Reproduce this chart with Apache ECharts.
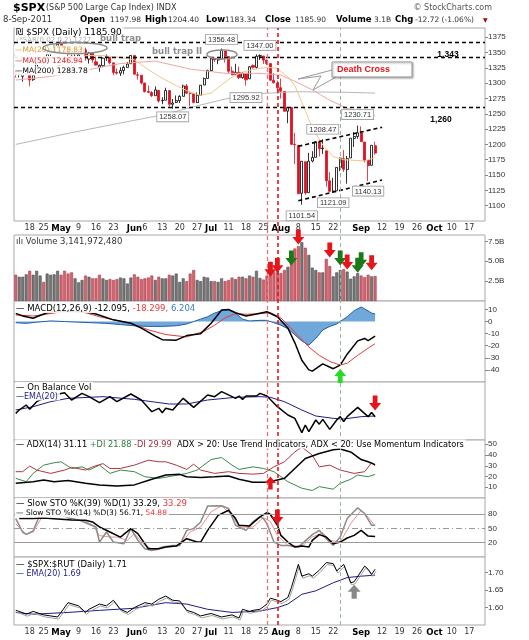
<!DOCTYPE html>
<html>
<head>
<meta charset="utf-8">
<script src="https://cdn.jsdelivr.net/npm/echarts@6/dist/echarts.min.js"></script>
<style>
  html, body { margin: 0; padding: 0; background: #fff; }
  #chart { width: 529px; height: 640px; }
</style>
</head>
<body>
<div id="chart"></div>
<script>
// trading days, Apr 12 - Sep 8 2011, then empty days to the right edge
const dates = [
  '4/12','4/13','4/14','4/15','4/18','4/19','4/20','4/21','4/25','4/26','4/27','4/28','4/29',
  '5/2','5/3','5/4','5/5','5/6','5/9','5/10','5/11','5/12','5/13','5/16','5/17','5/18','5/19','5/20','5/23','5/24','5/25','5/26','5/27','5/31',
  '6/1','6/2','6/3','6/6','6/7','6/8','6/9','6/10','6/13','6/14','6/15','6/16','6/17','6/20','6/21','6/22','6/23','6/24','6/27','6/28','6/29','6/30',
  '7/1','7/5','7/6','7/7','7/8','7/11','7/12','7/13','7/14','7/15','7/18','7/19','7/20','7/21','7/22','7/25','7/26','7/27','7/28','7/29',
  '8/1','8/2','8/3','8/4','8/5','8/8','8/9','8/10','8/11','8/12','8/15','8/16','8/17','8/18','8/19','8/22','8/23','8/24','8/25','8/26','8/29','8/30','8/31',
  '9/1','9/2','9/6','9/7','9/8',
  '9/9','9/12','9/13','9/14','9/15','9/16','9/19','9/20','9/21','9/22','9/23','9/26','9/27','9/28','9/29','9/30',
  '10/3','10/4','10/5','10/6','10/7','10/10','10/11','10/12','10/13','10/14','10/17','10/18','10/19','10/20','10/21'
];

const tickDates = ['4/18','4/25','5/2','5/9','5/16','5/23','6/1','6/6','6/13','6/20','6/27','7/1','7/11','7/18','7/25','8/1','8/8','8/15','8/22','9/1','9/12','9/19','9/26','10/3','10/10','10/17'];
const tickText = ['18','25','May','9','16','23','Jun','6','13','20','27','Jul','11','18','25','Aug','8','15','22','Sep','12','19','26','Oct','10','17'];

const open = [
  1319.1,1314.0,1311.1,1314.5,1313.4,1305.6,1319.1,1333.2,1337.1,1336.8,1348.4,1353.5,1360.1,
  1365.2,1359.8,1355.9,1344.2,1340.2,1340.2,1348.3,1354.5,1339.4,1348.7,1334.8,1326.1,1328.5,1342.4,1342.0,1333.1,1317.7,1316.4,1320.6,1325.7,1331.7,
  1345.2,1313.6,1312.9,1300.3,1286.3,1284.6,1279.6,1288.3,1271.3,1272.2,1287.9,1265.5,1268.6,1271.5,1278.4,1295.5,1283.5,1283.0,1268.4,1280.2,1296.9,1307.6,
  1320.6,1339.6,1337.6,1339.6,1352.4,1343.3,1319.6,1314.5,1317.7,1308.9,1315.9,1307.1,1328.7,1325.7,1343.8,1344.3,1337.4,1331.9,1304.8,1300.1,
  1292.6,1286.6,1254.3,1260.2,1200.3,1198.5,1120.2,1171.8,1121.3,1172.9,1178.9,1204.2,1192.9,1189.6,1140.5,1123.6,1124.4,1162.2,1176.7,1158.9,1177.9,1209.8,1213.0,
  1219.1,1203.9,1173.97,1165.9,1197.98
];
const high = [
  1321.0,1321.4,1316.8,1322.9,1313.5,1312.7,1332.7,1337.5,1337.6,1349.6,1357.5,1361.7,1364.6,
  1370.6,1360.8,1355.9,1348.0,1354.4,1349.4,1359.4,1357.9,1351.1,1350.5,1343.3,1330.4,1341.8,1346.8,1342.0,1333.1,1323.7,1325.9,1328.5,1334.6,1345.2,
  1345.2,1318.0,1312.9,1300.3,1296.2,1287.0,1294.5,1288.3,1277.0,1292.5,1287.9,1274.1,1279.8,1280.4,1297.6,1298.6,1286.7,1283.9,1284.9,1296.8,1309.2,1321.9,
  1341.0,1340.9,1340.9,1356.5,1352.4,1343.3,1327.2,1331.5,1326.9,1317.7,1315.9,1328.1,1330.4,1347.0,1347.0,1344.3,1338.5,1331.9,1316.3,1304.2,
  1307.4,1286.6,1261.2,1260.2,1218.9,1198.5,1172.9,1171.8,1186.3,1189.0,1204.5,1204.2,1208.5,1189.6,1154.5,1145.5,1162.4,1178.5,1190.7,1181.2,1210.1,1220.1,1230.7,
  1229.3,1203.9,1173.97,1198.6,1204.4
];
const low = [
  1309.2,1309.2,1302.4,1313.1,1294.7,1303.7,1319.1,1331.0,1331.0,1336.8,1344.3,1352.4,1358.7,
  1358.6,1349.5,1341.5,1329.2,1333.6,1338.6,1348.3,1336.4,1332.0,1333.4,1329.0,1318.5,1326.6,1336.4,1330.7,1312.9,1313.9,1311.8,1314.3,1325.7,1331.7,
  1313.7,1305.6,1297.9,1284.7,1284.7,1277.4,1279.6,1268.3,1265.6,1272.2,1261.9,1258.1,1267.4,1267.6,1278.4,1283.1,1262.9,1267.2,1267.5,1280.2,1296.9,1307.6,
  1318.9,1334.3,1330.9,1339.6,1333.7,1316.4,1313.3,1314.5,1306.5,1307.3,1295.9,1307.1,1323.7,1324.0,1337.8,1331.1,1329.6,1303.5,1299.2,1282.9,
  1274.7,1254.0,1234.6,1199.5,1168.1,1119.3,1101.5,1118.0,1121.3,1170.7,1178.9,1180.5,1184.4,1131.0,1122.1,1121.1,1124.4,1156.3,1155.1,1135.9,1177.9,1195.8,1209.4,
  1203.9,1170.6,1140.1,1165.9,1183.3
];
const close = [
  1314.2,1314.5,1314.5,1319.7,1305.1,1312.6,1330.4,1337.4,1335.3,1347.2,1355.7,1360.5,1363.6,
  1361.2,1356.6,1347.3,1335.1,1340.2,1346.3,1357.2,1342.1,1348.7,1337.8,1329.5,1328.9,1340.7,1343.6,1333.3,1317.4,1316.3,1320.5,1325.7,1331.1,1345.2,
  1314.6,1312.9,1300.2,1286.2,1284.9,1279.6,1289.0,1271.0,1271.8,1287.9,1265.4,1267.6,1271.5,1278.4,1295.5,1283.5,1283.4,1268.5,1280.1,1296.7,1307.4,1320.6,
  1339.7,1337.9,1339.2,1353.2,1343.8,1319.5,1313.6,1317.7,1308.9,1316.1,1305.4,1326.7,1325.8,1343.8,1345.0,1337.4,1331.9,1304.9,1300.7,1292.3,
  1286.9,1254.1,1260.3,1200.1,1199.4,1119.5,1172.5,1120.8,1172.6,1178.8,1204.5,1192.8,1193.9,1140.7,1123.5,1123.8,1162.4,1177.6,1159.3,1176.8,1210.1,1212.9,1218.9,
  1204.4,1174.0,1165.2,1198.6,1185.9
];
// volume, billions
const volume = [
  3.3,3.05,3.05,3.35,3.8,3.3,3.8,3.2,2.4,3.45,3.3,3.35,3.8,
  3.3,3.8,3.45,3.6,2.85,2.35,2.65,3.2,3.05,2.85,2.85,3.3,2.85,2.65,2.75,2.65,2.75,2.95,2.85,2.2,2.95,
  3.35,3.05,2.75,2.85,2.95,3.2,2.65,3.05,2.85,2.85,3.3,3.2,3.45,2.4,2.85,2.5,3.45,3.9,2.65,2.5,3.05,2.95,
  2.5,2.5,2.4,2.85,2.5,2.65,2.95,2.75,3.05,3.05,2.85,3.2,3.05,3.8,2.9,2.7,3.2,3.6,3.6,3.8,
  3.5,3.9,4.3,5.6,6.6,6.9,7.4,6.7,5.8,4.2,3.9,3.6,3.6,5.3,4.4,3.1,3.6,3.9,4.0,3.7,2.8,3.1,3.5,
  3.2,3.0,3.3,3.1,3.14
];

// indicator lines: [trading-day index, value]
const ma20 = [[0,1318],[5,1317],[10,1322],[15,1335],[20,1345],[25,1345],[30,1342],[34,1338],[38,1322],[42,1308],[46,1296],[50,1285],[53,1280],[56,1284],[59,1297],[62,1310],[65,1318],[68,1322],[72,1326],[75,1324],[78,1310],[80,1296],[83,1255],[85,1227],[88,1199],[91,1180],[94,1175],[97,1174],[100,1173],[103,1178.8]];
const ma50 = [[0,1305],[10,1311],[20,1321],[30,1332],[40,1336],[50,1323],[60,1316],[70,1316],[76,1313],[80,1303],[85,1289],[90,1272],[95,1259],[100,1250],[103,1246.9]];
const ma200 = [[0,1200],[15,1218],[30,1235],[42,1248],[52,1263],[60,1274],[67,1282],[80,1286],[95,1285],[103,1283.8]];

const macdLine = [[0,6.8],[2,4.6],[5,2.7],[6,4],[9,7.3],[12,8.5],[16,8.4],[20,8],[23,6.2],[28,1.4],[33,-1.4],[36,-5.4],[40,-12],[42,-15],[46,-15.4],[49,-11.6],[53,-10],[56,-1.4],[59,9.5],[61,10],[63,7.3],[66,4.6],[69,6.2],[72,8.1],[75,4],[78,-5.4],[80,-17.6],[82,-32],[84,-40],[85,-41],[88,-35],[91,-39],[93,-36],[95,-27],[98,-16],[100,-14],[101,-15.7],[103,-12.1]];
const macdSignal = [[0,5.4],[5,4.6],[9,6.2],[13,8],[17,8.5],[20,7.3],[24,4],[28,1.4],[33,-1.4],[38,-6.8],[43,-10.8],[49,-12.7],[54,-8],[57,-3],[60,3],[63,6.5],[66,6],[70,6.5],[73,7.3],[76,3],[78,-2.7],[81,-12],[84,-21],[87,-28],[90,-33],[93,-36],[95,-34.5],[98,-28],[101,-22],[103,-18.3]];
const macdHist = [[0,-1],[3,-1.5],[6,-0.5],[10,0.5],[14,0],[18,-0.5],[22,-1],[26,-1.5],[30,-2.5],[34,-3.5],[38,-4],[42,-4],[46,-3.5],[49,-2],[51,0],[53,2],[55,4],[57,7],[59,9],[61,10],[63,7],[65,2],[67,0.5],[70,1],[72,1],[74,-1],[76,-3],[78,-6],[80,-11],[82,-16],[84,-19.5],[86,-14],[88,-7],[90,-4],[92,-2],[93,0],[95,4],[97,9],[99,12],[100,10.5],[102,7],[103,6.2]];

const obv = [[0,4],[1,6],[3,9],[4,6.4],[6,11],[8,13],[11,15],[14,16.4],[16,12],[19,16],[21,14],[24,10.4],[27,14],[29,11],[33,15.6],[36,12],[39,5],[41,7],[42,4.4],[43,7],[45,6],[48,13],[51,7.6],[55,15],[57,14],[59,17],[62,14],[63,13],[64,14.4],[65,12.4],[66,14.4],[69,14.4],[70,16],[72,14.4],[75,8],[78,3],[80,1],[82,-7.6],[83,-3],[84,-7],[86,0],[87,-2.5],[88,0.4],[90,-5.6],[92,0],[93,2],[94,-1],[95,2],[98,7.6],[101,2],[102,4.5],[103,2]];
const obvEma = [[0,6],[5,8],[10,11],[15,13],[25,14],[34,12.4],[44,9.6],[49,9.6],[55,12],[63,13.6],[70,14],[73,13.6],[77,11],[82,6],[86,2.4],[91,1],[94,0.6],[99,2],[103,2.4]];

const adx = [[0,13.7],[5,15.2],[8,16.8],[11,15.2],[15,16.2],[20,13.7],[24,12.2],[29,11.2],[34,12.2],[39,17.4],[43,21.4],[47,22],[49,19.8],[53,19.2],[57,19.8],[61,20.5],[64,17.4],[68,14.6],[72,14.6],[75,16.8],[77,18.3],[80,27.5],[83,36.8],[87,41.4],[91,45],[93,45.7],[96,42.9],[99,35.8],[101,33.7],[103,31.1]];
const plusDI = [[0,18.3],[3,15.2],[5,22.9],[8,30.6],[11,32.8],[13,33.7],[16,27.5],[19,29],[21,26],[24,30.6],[27,22.9],[30,26],[34,24.5],[37,19.8],[41,18.3],[45,20.5],[49,22.9],[52,26],[56,35.8],[59,37.7],[62,30.6],[64,26.6],[68,29],[71,27.5],[74,24.5],[78,15.2],[82,9.1],[85,7],[87,10.6],[91,8.2],[93,13.7],[96,17.4],[98,21.4],[101,19.8],[103,21.9]];
const minusDI = [[0,24.5],[2,24.5],[4,29.7],[6,26],[10,22.9],[14,26],[16,28.5],[20,26],[22,29],[25,32],[27,27.5],[30,27.5],[34,30.6],[38,35.2],[41,33.7],[43,33.7],[46,30.6],[49,26.6],[51,31.5],[53,26],[57,22.9],[61,24.5],[64,22.9],[68,22.2],[71,22.9],[74,29],[77,33.7],[80,42.9],[82,47.5],[85,39.8],[87,29],[90,30.6],[93,26],[97,22.9],[100,24.5],[102,32.8],[103,30]];

const sto39 = [[1,70.8],[5,70.8],[8,72],[12,70],[16,68],[20,67.3],[22,63.7],[24,53.1],[27,42.5],[30,31.9],[33,49.6],[35,39],[38,7.3],[41,7.3],[43,10.8],[46,12.9],[49,28.5],[52,21.4],[53,21.4],[55,46],[58,77.6],[61,88.2],[63,70.8],[64,56.7],[67,55.3],[70,74.3],[72,83.5],[73,79.3],[75,56.7],[76,35.4],[78,21.4],[80,10.8],[82,12.9],[84,10.8],[85,24.9],[87,37],[89,32],[91,17.9],[93,21.4],[95,29.9],[97,35.4],[99,46],[101,34],[103,33.3]];
const sto14k = [[0,70.8],[2,42],[3,37.6],[5,45],[7,80],[10,85],[13,80],[15,72],[18,68],[20,62],[23,53],[24,21.4],[26,42.6],[28,21.4],[31,18],[33,49.6],[35,25],[37,7.3],[39,3.8],[42,10.8],[45,14.4],[47,14.4],[49,46],[51,49.6],[53,63.7],[55,97],[59,97.6],[61,92],[63,56.7],[66,46],[68,64],[70,74.3],[71,70.8],[72,60],[74,21.4],[76,14.4],[78,14.4],[81,10.8],[85,37],[87,46],[89,28.5],[91,14.4],[93,32],[95,70.8],[98,93.4],[100,81.4],[102,56.7],[103,56.7]];
const sto14d = [[0,60],[3,37.6],[5,42.6],[8,80],[11,82],[15,74],[18,67],[20,65],[22,57],[24,35],[27,32],[29,32],[32,25],[34,39],[37,14.4],[40,3.8],[43,10.8],[47,14.4],[50,42.6],[53,53],[56,85],[59,97.6],[62,78],[64,53],[68,53],[71,72.8],[73,64],[75,35.4],[78,14.4],[82,12.2],[85,32],[88,41],[90,25],[93,21.4],[96,60],[99,88.2],[101,74],[103,54.9]];

const ratio = [[0,1.592],[1,1.589],[3,1.581],[5,1.589],[8,1.579],[10,1.576],[12,1.573],[15,1.614],[18,1.605],[20,1.586],[21,1.595],[24,1.610],[26,1.605],[28,1.621],[30,1.595],[32,1.586],[34,1.600],[37,1.614],[39,1.610],[41,1.624],[43,1.633],[45,1.621],[47,1.619],[49,1.592],[51,1.586],[53,1.576],[56,1.583],[59,1.573],[62,1.579],[64,1.570],[65,1.595],[67,1.589],[68,1.592],[70,1.595],[72,1.610],[73,1.627],[75,1.621],[76,1.617],[78,1.629],[79,1.657],[81,1.724],[82,1.690],[84,1.697],[85,1.690],[87,1.707],[89,1.729],[91,1.726],[92,1.705],[94,1.724],[96,1.671],[97,1.674],[100,1.719],[101,1.710],[102,1.695],[103,1.710]];
const ratioEma = [[0,1.586],[5,1.581],[15,1.586],[24,1.592],[34,1.598],[43,1.614],[49,1.610],[55,1.595],[62,1.586],[70,1.590],[75,1.600],[78,1.610],[82,1.638],[86,1.648],[91,1.671],[95,1.686],[99,1.690],[103,1.693]];

// annotations
const levels = [1367, 1343, 1260];
const channelTop = [['8/8', 1197], ['9/12', 1228]];
const channelBottom = [['8/8', 1108], ['9/12', 1142]];
const eventLines = [['7/26', '#f07070', 1.3], ['7/29', '#e8141c', 1.6], ['8/24', '#98b898', 1]];
const priceNotes = [
  ['7/7', 1356.48, 'top', 4], ['7/22', 1347.00, 'top', 4], ['7/18', 1295.92, 'bottom', 7],
  ['6/16', 1258.07, 'bottom', 3], ['8/31', 1230.71, 'top', 6], ['8/17', 1208.47, 'top', 5],
  ['8/22', 1121.09, 'bottom', 5], ['9/6', 1140.13, 'bottom', 5], ['8/9', 1101.54, 'bottom', 6]
];
const RED = '#e8141c', DKGREEN = '#1a7a1a';
const volArrows = [
  ['7/27', 4.0, RED], ['7/29', 4.5, RED], ['8/4', 5.4, DKGREEN], ['8/8', 8.05, RED], ['8/10', 9.8, RED],
  ['8/19', 6.4, RED], ['8/24', 5.4, DKGREEN], ['8/26', 4.9, RED], ['8/31', 4.5, DKGREEN], ['9/1', 5.2, DKGREEN], ['9/7', 4.8, RED]
];

const SANS = '"DejaVu Sans", sans-serif';
const NARROW = '"Liberation Sans Narrow", "Liberation Sans", sans-serif';
const ARROW_DOWN = 'path://M3,0H7V6H10L5,12L0,6H3Z';
const ARROW_UP = 'path://M5,0L10,6H7V12H3V6H0Z';

function arrow(coord, color, dir, size) {
    return {
        coord: coord,
        symbol: dir === 'up' ? ARROW_UP : ARROW_DOWN,
        symbolSize: size || [12, 15],
        itemStyle: { color: color },
        label: { show: false }
    };
}

function lineSeries(grid, data, color, width, extra) {
    return Object.assign({
        type: 'line',
        xAxisIndex: grid,
        yAxisIndex: grid,
        data: data,
        showSymbol: false,
        symbol: 'none',
        silent: true,
        lineStyle: { color: color, width: width }
    }, extra || {});
}

function rightAxis(grid, min, max, interval, fmt) {
    return {
        type: 'value', gridIndex: grid, position: 'right',
        min: min, max: max, interval: interval,
        axisLine: { show: false },
        splitLine: { show: false },
        axisTick: { show: true, length: 3, lineStyle: { color: '#888' } },
        axisLabel: {
            fontSize: 8, color: '#333', fontFamily: NARROW, margin: 3,
            showMinLabel: false, showMaxLabel: false, formatter: fmt
        }
    };
}

function hiddenAxis(grid, min, max) {
    return { type: 'value', gridIndex: grid, min: min, max: max, show: false, splitLine: { show: false } };
}

function txt(x, y, text, font, fill, align) {
    return {
        type: 'text', x: x, y: y, z: 100,
        style: {
            text: text, font: font, fill: fill,
            align: align || 'left', verticalAlign: 'middle',
            textAlign: align || 'left', textVerticalAlign: 'middle'
        }
    };
}

function legend(x, y, parts, size) {
    const rich = {};
    let text = '';
    parts.forEach(function (p, k) {
        rich['p' + k] = { fill: p[1], font: size + 'px ' + SANS };
        text += '{p' + k + '|' + p[0] + '}';
    });
    return {
        type: 'text', x: x, y: y, z: 100,
        style: {
            text: text, rich: rich, font: size + 'px ' + SANS,
            verticalAlign: 'middle', textVerticalAlign: 'middle',
            backgroundColor: 'rgba(255,255,255,0.9)', padding: [1, 2, 0, 1]
        }
    };
}

const panels = [
    { top: 28, height: 193 },   // price
    { top: 235, height: 66 },   // volume
    { top: 301, height: 81 },   // macd
    { top: 382, height: 58 },   // obv
    { top: 440, height: 58 },   // adx
    { top: 498, height: 59 },   // slow sto
    { top: 557, height: 68 },   // spx:rut
    { top: 28, height: 597 }    // event lines through every panel
];

const dateLabels = {
    interval: function (i, v) { return tickDates.indexOf(v) >= 0; },
    formatter: function (v) {
        const t = tickText[tickDates.indexOf(v)];
        return /[A-Z]/.test(t) ? '{m|' + t + '}' : t;
    },
    fontSize: 8, color: '#333', fontFamily: SANS, margin: 3,
    rich: { m: { fontWeight: 'bold', color: '#000', fontSize: 8.5, fontFamily: SANS } }
};

let chartElem = document.getElementById('chart');
let chart = echarts.init(chartElem);

chart.setOption({
    animation: false,
    backgroundColor: '#fff',
    grid: panels.map(function (p, i) {
        return {
            left: 14, right: 44, top: p.top, height: p.height,
            show: i < 7, borderColor: '#a8a8a8', borderWidth: 1, backgroundColor: '#fff'
        };
    }),
    xAxis: panels.map(function (p, i) {
        return {
            type: 'category', gridIndex: i, data: dates, boundaryGap: true,
            axisLine: { show: false }, axisTick: { show: false },
            splitLine: { show: false },
            axisLabel: (i === 0 || i === 6) ? dateLabels : { show: false }
        };
    }),
    yAxis: [
        rightAxis(0, 1075, 1390, 25, function (v) { return v; }),
        rightAxis(1, 0, 8.3, 2.5, function (v) { return v.toFixed(1) + 'B'; }),
        rightAxis(2, -50, 17, 10, function (v) { return v; }),
        hiddenAxis(3, -12, 22.8),
        rightAxis(4, 0, 54, 10, function (v) { return v; }),
        Object.assign(rightAxis(5, -10, 114, 10, function (v) {
            return [20, 50, 80].indexOf(Math.round(v)) >= 0 ? v : '';
        }), { axisTick: { show: false } }),
        rightAxis(6, 1.55, 1.745, 0.05, function (v) { return v.toFixed(2); }),
        hiddenAxis(7, 0, 1)
    ],
    series: [
        lineSeries(0, ma200, '#b8b8b8', 1),
        lineSeries(0, ma50, '#f2a4a4', 1),
        lineSeries(0, ma20, '#f0c888', 1),
        {
            type: 'candlestick',
            xAxisIndex: 0, yAxisIndex: 0,
            data: open.map(function (o, i) { return [o, close[i], low[i], high[i]]; }),
            barWidth: 2.6,
            silent: true,
            itemStyle: { color: '#fff', color0: '#dd1122', borderColor: '#000', borderColor0: '#dd1122', borderWidth: 0.8 },
            markLine: {
                silent: true, symbol: 'none', label: { show: false },
                data: levels.map(function (v) {
                    return { yAxis: v, lineStyle: { color: '#000', type: [4, 3], width: 1.4 } };
                }).concat([
                    [{ coord: channelTop[0] }, { coord: channelTop[1] }],
                    [{ coord: channelBottom[0] }, { coord: channelBottom[1] }]
                ].map(function (seg) {
                    seg[0].lineStyle = { color: '#000', type: [4, 3], width: 1.6 };
                    return seg;
                }))
            },
            markPoint: {
                silent: true,
                data: priceNotes.map(function (n) {
                    return {
                        coord: [n[0], n[1]], value: n[1],
                        symbol: 'rect', symbolSize: 1, itemStyle: { color: 'rgba(0,0,0,0)' },
                        label: {
                            show: true, position: n[2], distance: n[3],
                            formatter: function (p) { return Number(p.value).toFixed(2); },
                            fontSize: 7.5, fontFamily: NARROW, color: '#333', lineHeight: 8,
                            backgroundColor: '#fff', borderColor: '#999', borderWidth: 0.8, padding: [1, 2, 0, 2]
                        }
                    };
                })
            }
        },
        {
            type: 'bar',
            xAxisIndex: 1, yAxisIndex: 1,
            barCategoryGap: '15%',
            silent: true,
            data: volume.map(function (v, i) {
                const down = i === 0 || close[i] < close[i - 1];
                return {
                    value: v,
                    itemStyle: {
                        color: down ? '#cf6570' : '#767676',
                        borderColor: down ? '#b23a48' : '#505050',
                        borderWidth: 0.6
                    }
                };
            }),
            markPoint: {
                silent: true,
                data: volArrows.map(function (a) { return arrow([a[0], a[1]], a[2], 'down'); })
            }
        },
        lineSeries(2, macdHist, '#1f5ea8', 1, {
            areaStyle: { color: '#70a8da', opacity: 1 }
        }),
        lineSeries(2, macdSignal, '#e83a3a', 1),
        lineSeries(2, macdLine, '#000', 1.5, {
            markPoint: { silent: true, data: [arrow(['8/24', -45], '#22dd22', 'up', [12, 14])] }
        }),
        lineSeries(3, obvEma, '#1c1c8c', 1),
        lineSeries(3, obv, '#000', 1.5, {
            markPoint: { silent: true, data: [arrow(['9/8', 10.2], RED, 'down')] }
        }),
        lineSeries(4, plusDI, '#3a8a4a', 1),
        lineSeries(4, minusDI, '#b03444', 1),
        lineSeries(4, adx, '#000', 1.5, {
            markPoint: { silent: true, data: [arrow(['7/27', 14], RED, 'up', [11, 13])] }
        }),
        lineSeries(5, sto14d, '#f09090', 1),
        lineSeries(5, sto14k, '#8a8a8a', 1.5),
        lineSeries(5, sto39, '#000', 1.5, {
            markLine: {
                silent: true, symbol: 'none', label: { show: false },
                data: [
                    { yAxis: 80, lineStyle: { color: '#9a9a9a', type: 'solid', width: 1 } },
                    { yAxis: 50, lineStyle: { color: '#9a9a9a', type: [6, 3, 1, 3], width: 1 } },
                    { yAxis: 20, lineStyle: { color: '#9a9a9a', type: 'solid', width: 1 } }
                ]
            },
            markPoint: { silent: true, data: [arrow(['7/29', 74], RED, 'down')] }
        }),
        lineSeries(6, ratioEma, '#1c1c8c', 1),
        lineSeries(6, ratio, '#000', 1, {
            lineStyle: { color: '#000', width: 1, shadowColor: '#a0a0a0', shadowOffsetY: 2, shadowOffsetX: 1 },
            markPoint: { silent: true, data: [arrow(['8/30', 1.645], '#888', 'up', [13, 14])] }
        })
    ].concat(eventLines.map(function (e) {
        // one carrier series per event line, drawn across all panels
        return {
            type: 'line', xAxisIndex: 7, yAxisIndex: 7, data: [], z: 20,
            markLine: {
                silent: true, symbol: 'none', label: { show: false },
                data: [{ xAxis: dates.indexOf(e[0]), lineStyle: { color: e[1], width: e[2], type: [4, 3] } }]
            }
        };
    })),
    graphic: { elements: [
        // header
        txt(13, 8, '$SPX', 'bold 11px ' + SANS, '#000'),
        txt(46, 8, '(S&P 500 Large Cap Index) INDX', '8px ' + SANS, '#333'),
        txt(492, 8, '© StockCharts.com', '8px ' + SANS, '#555', 'right'),
        txt(3, 20, '8-Sep-2011', '8.5px ' + SANS, '#333'),
        txt(80, 20, 'Open', 'bold 8.5px ' + SANS, '#000'),
        txt(110, 20, '1197.98', '7.5px ' + SANS, '#333'),
        txt(145, 20, 'High', 'bold 8.5px ' + SANS, '#000'),
        txt(168, 20, '1204.40', '7.5px ' + SANS, '#333'),
        txt(206, 20, 'Low', 'bold 8.5px ' + SANS, '#000'),
        txt(225, 20, '1183.34', '7.5px ' + SANS, '#333'),
        txt(265, 20, 'Close', 'bold 8.5px ' + SANS, '#000'),
        txt(295, 20, '1185.90', '7.5px ' + SANS, '#333'),
        txt(336, 20, 'Volume', 'bold 8.5px ' + SANS, '#000'),
        txt(374, 20, '3.1B', '7.5px ' + SANS, '#333'),
        txt(395, 20, 'Chg', 'bold 8.5px ' + SANS, '#000'),
        txt(415, 20, '-12.72 (-1.06%)', '7.5px ' + SANS, '#333'),
        txt(483, 20, '▼', '6px ' + SANS, '#a00'),

        // price panel legend
        legend(15, 32, [['₪ $SPX (Daily) 1185.90', '#000']], 9),
        txt(15, 40.5, '◦*SAR(0.02,0.2) 1227', '7px ' + SANS, '#b0b0b0'),
        legend(14, 50, [['—MA(20) 1178.83', '#d99a2b']], 7.5),
        legend(14, 60.5, [['—MA(50) 1246.94', '#e02020']], 7.5),
        legend(14, 71, [['—MA(200) 1283.78', '#000']], 7.5),

        // price annotations
        { type: 'ellipse', z: 100, shape: { cx: 75, cy: 48, rx: 32, ry: 5.5 }, style: { fill: 'none', stroke: '#8a8a8a', lineWidth: 1.5 } },
        { type: 'ellipse', z: 100, shape: { cx: 222, cy: 54.5, rx: 15, ry: 4.5 }, style: { fill: 'none', stroke: '#8a8a8a', lineWidth: 1.5 } },
        txt(100, 39, 'bull trap', 'bold 8.5px ' + SANS, '#8c8c8c'),
        txt(152, 52, 'bull trap II', 'bold 8.5px ' + SANS, '#8c8c8c'),
        txt(448, 55, '1,343', 'bold 8.5px ' + NARROW, '#000', 'center'),
        txt(441, 120, '1,260', 'bold 8.5px ' + NARROW, '#000', 'center'),
        { type: 'polygon', z: 100, shape: { points: [[332, 70], [298, 79], [321, 76], [313, 90], [336, 77]] }, style: { fill: '#fff', stroke: '#999', lineWidth: 1 } },
        { type: 'rect', z: 100, shape: { x: 332, y: 62, width: 80, height: 15 }, style: { fill: '#fff', stroke: '#999', lineWidth: 1, shadowBlur: 2, shadowOffsetX: 1, shadowOffsetY: 1, shadowColor: 'rgba(0,0,0,0.3)' } },
        txt(337, 69.5, 'Death Cross', 'bold 9px "Liberation Sans", sans-serif', '#e8141c'),

        // lower panel legends
        legend(15, 241, [['ılı Volume 3,141,972,480', '#333']], 8.5),
        legend(15, 308, [['— MACD(12,26,9) -12.095, ', '#000'], ['-18.299, ', '#e83a3a'], ['6.204', '#3a7fc0']], 8.5),
        legend(15, 387, [['— On Balance Vol', '#000']], 8.5),
        legend(15, 396, [['—EMA(20)', '#1c1c8c']], 8),
        legend(15, 444, [['— ADX(14) 31.11 ', '#000'], ['+DI 21.88 ', '#2a7a3a'], ['-DI 29.99 ', '#a03040'], [' ADX > 20: Use Trend Indicators, ADX < 20: Use Momentum Indicators', '#000']], 8.2),
        legend(15, 503, [['— Slow STO %K(39) %D(1) 33.29, ', '#000'], ['33.29', '#e83a3a']], 8.5),
        legend(15, 513, [['— Slow STO %K(14) %D(3) 56.71, ', '#000'], ['54.88', '#e83a3a']], 7.5),
        legend(15, 564, [['— $SPX:$RUT (Daily) 1.71', '#000']], 8.5),
        legend(15, 573, [['— EMA(20) 1.69', '#1c1c8c']], 8)
    ] }
});

window.addEventListener('resize', function () {
    setTimeout(function () { chart.resize(); }, 500);
});
</script>
</body>
</html>
